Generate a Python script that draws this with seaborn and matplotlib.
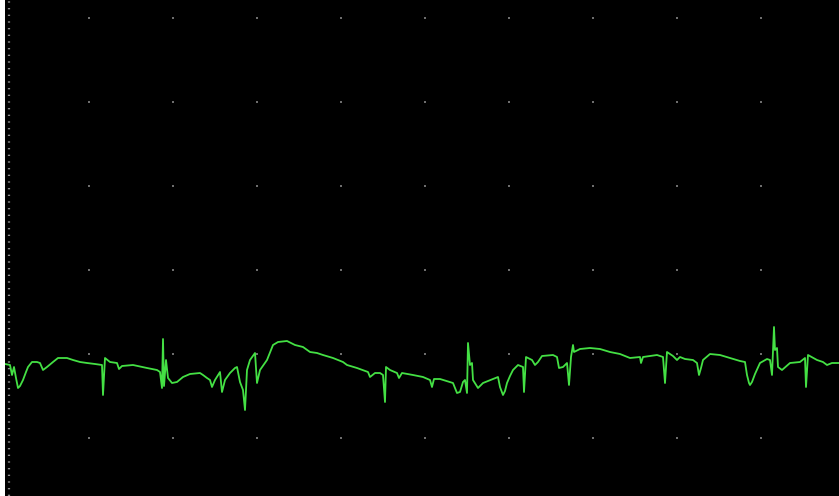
import numpy as np
import pandas as pd
import matplotlib
matplotlib.use("Agg")
import matplotlib.pyplot as plt
import seaborn as sns

# ECG trace: sample index (420 Hz, 84 samples per grid division) and raw amplitude (counts)
sample = [0, 5, 7, 9, 11, 13, 15, 18, 21, 23, 27, 32, 35, 38, 42, 48, 53, 62, 68, 75, 82, 90, 97,
          98, 100, 105, 112, 114, 117, 128, 142, 152, 155, 157, 158, 159, 161, 163, 167,
          172, 178, 185, 195, 198, 202, 205, 207, 210, 215, 217, 220, 225, 230, 232, 235,
          238, 240, 242, 245, 250, 252, 255, 262, 268, 273, 282, 290, 298, 305, 312, 318,
          328, 338, 342, 352, 363, 365, 370, 375, 378, 380, 381, 385, 392, 394, 397, 408,
          418, 425, 427, 429, 435, 445, 448, 452, 455, 458, 460, 462, 463, 465, 467, 468,
          473, 478, 488, 493, 495, 498, 500, 502, 505, 508, 513, 518, 519, 521, 527, 530, 533, 537,
          548, 552, 554, 558, 562, 564, 566, 568, 569, 575, 585, 595, 605, 615, 625, 635,
          636, 638, 652, 658, 660, 662, 668, 672, 675, 680, 688, 692, 694, 696, 698, 705, 715,
          725, 735, 740, 742, 744, 745, 747, 750, 755, 762, 765, 767, 769, 770, 772, 773, 777, 785,
          795, 800, 801, 803, 812, 818, 822, 827, 834]
amplitude = [74, 73, 63, 71, 60, 50, 52, 58, 66, 71, 76, 76, 75, 68, 71, 76, 80, 80, 78, 76, 75, 74, 73,
             43, 80, 76, 75, 69, 72, 73, 70, 68, 66, 50, 99, 52, 78, 60, 55,
             56, 61, 64, 65, 63, 60, 58, 51, 58, 66, 46, 58, 65, 70, 71, 56,
             48, 28, 68, 78, 85, 55, 68, 78, 93, 96, 97, 93, 91, 86, 85, 83,
             80, 76, 73, 70, 66, 61, 65, 65, 63, 36, 71, 68, 65, 60, 65, 63,
             61, 58, 51, 59, 59, 56, 55, 45, 46, 56, 58, 45, 95, 73, 75, 58,
             50, 55, 59, 61, 51, 43, 47, 55, 62, 68, 73, 71, 46, 81, 78, 73, 76, 82,
             83, 81, 70, 71, 75, 53, 81, 93, 86, 89, 90, 89, 86, 84, 80, 81,
             75, 81, 83, 81, 55, 86, 82, 78, 81, 79, 78, 75, 63, 70, 78, 84, 83,
             80, 77, 76, 63, 55, 53, 56, 64, 75, 79, 78, 63, 111, 88, 90, 71, 68, 75,
             76, 80, 51, 83, 78, 76, 73, 75, 75]

df = pd.DataFrame({"sample": sample, "amplitude": amplitude})

fig = plt.figure(figsize=(8.39, 4.96), dpi=100, facecolor="white")
ax = fig.add_axes([5 / 839, 0, 834 / 839, 1])
ax.set_facecolor("black")

# grid drawn as dots at the division intersections
gx, gy = np.meshgrid(np.arange(84, 834, 84), np.arange(0, 438, 84))
ax.scatter(gx.ravel(), gy.ravel(), s=1.0, marker="s", color="#6e6e6e", linewidths=0, zorder=1)

# dotted scale line at the left edge
ax.axvline(3.5, color="#8c8c8c", lw=1.6, linestyle=(0, (0.6, 2.4)), zorder=1)

sns.lineplot(data=df, x="sample", y="amplitude", sort=False, estimator=None,
             color="#44e044", lw=1.3, ax=ax, zorder=3)

ax.set_xlim(0, 834)
ax.set_ylim(-58, 438)
ax.set_xticks([])
ax.set_yticks([])
ax.set_xlabel("")
ax.set_ylabel("")
for s in ax.spines.values():
    s.set_visible(False)

fig.savefig("out.png", dpi=100, facecolor="white")
